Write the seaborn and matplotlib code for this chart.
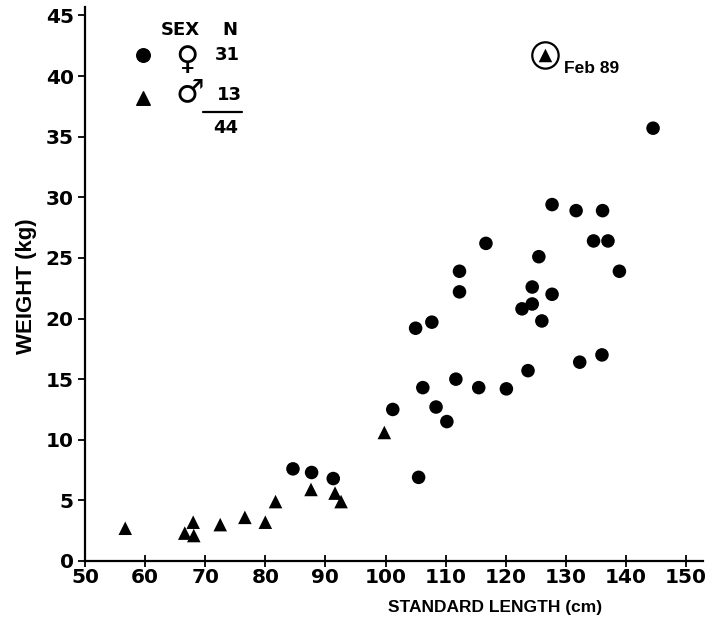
import pandas as pd
import matplotlib
matplotlib.use("Agg")
import matplotlib.pyplot as plt
import seaborn as sns

# Female fish (filled circles): standard length (cm) and weight (kg)
female_length = [144.5, 127.7, 131.7, 136.1, 116.7, 134.6, 137.0, 125.5, 138.9, 112.3,
                 112.3, 124.4, 127.7, 124.4, 122.7, 126.0, 105.0, 107.7, 136.0, 132.3,
                 123.7, 111.7, 106.2, 115.5, 120.1, 101.2, 108.4, 110.2, 105.5, 84.6,
                 87.7, 91.3]
female_weight = [35.7, 29.4, 28.9, 28.9, 26.2, 26.4, 26.4, 25.1, 23.9, 23.9,
                 22.2, 22.6, 22.0, 21.2, 20.8, 19.8, 19.2, 19.7, 17.0, 16.4,
                 15.7, 15.0, 14.3, 14.3, 14.2, 12.5, 12.7, 11.5, 6.9, 7.6,
                 7.3, 6.8]

# Male fish (filled triangles)
male_length = [56.7, 68.0, 66.6, 68.1, 72.5, 76.6, 80.0, 81.7, 87.6, 91.6, 92.6, 99.8]
male_weight = [2.7, 3.2, 2.3, 2.1, 3.0, 3.6, 3.2, 4.9, 5.9, 5.6, 4.9, 10.6]

# the circled male caught in Feb 89
feb89_length = 126.6
feb89_weight = 41.7

x_ticks = [50, 60, 70, 80, 90, 100, 110, 120, 130, 140, 150]
y_ticks = [0, 5, 10, 15, 20, 25, 30, 35, 40, 45]

df = pd.DataFrame({
    "length": female_length + male_length + [feb89_length],
    "weight": female_weight + male_weight + [feb89_weight],
    "sex": ["F"] * len(female_length) + ["M"] * (len(male_length) + 1),
})

sns.set_style("ticks")
plt.rcParams["font.family"] = ["DejaVu Sans"]
plt.rcParams["text.color"] = "black"
plt.rcParams["axes.labelcolor"] = "black"
plt.rcParams["xtick.color"] = "black"
plt.rcParams["ytick.color"] = "black"

fig = plt.figure(figsize=(7.25, 6.28), dpi=100)
ax = fig.add_axes([0.1172, 0.1067, 0.8524, 0.8822])

sns.scatterplot(data=df, x="length", y="weight", style="sex", hue="sex",
                markers={"F": "o", "M": "^"}, palette={"F": "black", "M": "black"},
                s=95, linewidth=0, legend=False, ax=ax)

# ring around the Feb 89 fish
ax.scatter([feb89_length], [feb89_weight], s=360, facecolors="none",
           edgecolors="black", linewidths=1.6, zorder=3)
ax.annotate("Feb 89", (feb89_length, feb89_weight), xytext=(13, -9.5),
            textcoords="offset points", ha="left", va="center",
            fontsize=12.5, fontweight="bold", family="Liberation Sans")

ax.set_xlim(50, 152.8)
ax.set_ylim(0, 45.7)
ax.set_xticks(x_ticks)
ax.set_yticks(y_ticks)
ax.tick_params(axis="x", direction="inout", length=8, width=1.3, pad=1,
               labelsize=14.5)
ax.tick_params(axis="y", direction="out", length=5, width=1.3, pad=3,
               labelsize=14.5)
for lab in ax.get_xticklabels() + ax.get_yticklabels():
    lab.set_fontweight("bold")

sns.despine(ax=ax)
for side in ["left", "bottom"]:
    ax.spines[side].set_linewidth(1.6)
    ax.spines[side].set_color("black")

ax.set_xlabel("STANDARD LENGTH (cm)", fontsize=12.5, fontweight="bold",
              family="Liberation Sans")
ax.set_ylabel("WEIGHT (kg)", fontsize=16, fontweight="bold",
              family="Liberation Sans")
ax.xaxis.set_label_coords(0.663, -0.07)
ax.yaxis.set_label_coords(-0.078, 0.496)

# hand-made key in the upper left
tr = ax.transAxes
key_font = dict(fontsize=13, fontweight="bold", ha="center", va="center", transform=tr)
ax.text(0.154, 0.958, "SEX", **key_font)
ax.text(0.235, 0.958, "N", **key_font)
ax.scatter([0.094], [0.913], s=95, marker="o", color="black", transform=tr, clip_on=False)
ax.scatter([0.094], [0.836], s=95, marker="^", color="black", transform=tr, clip_on=False)
ax.text(0.165, 0.903, "\u2640", fontsize=23, ha="center", va="center", transform=tr)
ax.text(0.170, 0.846, "\u2642", fontsize=23, ha="center", va="center", transform=tr)
ax.text(0.230, 0.913, "31", **key_font)
ax.text(0.233, 0.841, "13", **key_font)
ax.plot([0.191, 0.254], [0.810, 0.810], color="black", lw=1.6, transform=tr)
ax.text(0.227, 0.782, "44", **key_font)

fig.savefig("out.png", dpi=100)
